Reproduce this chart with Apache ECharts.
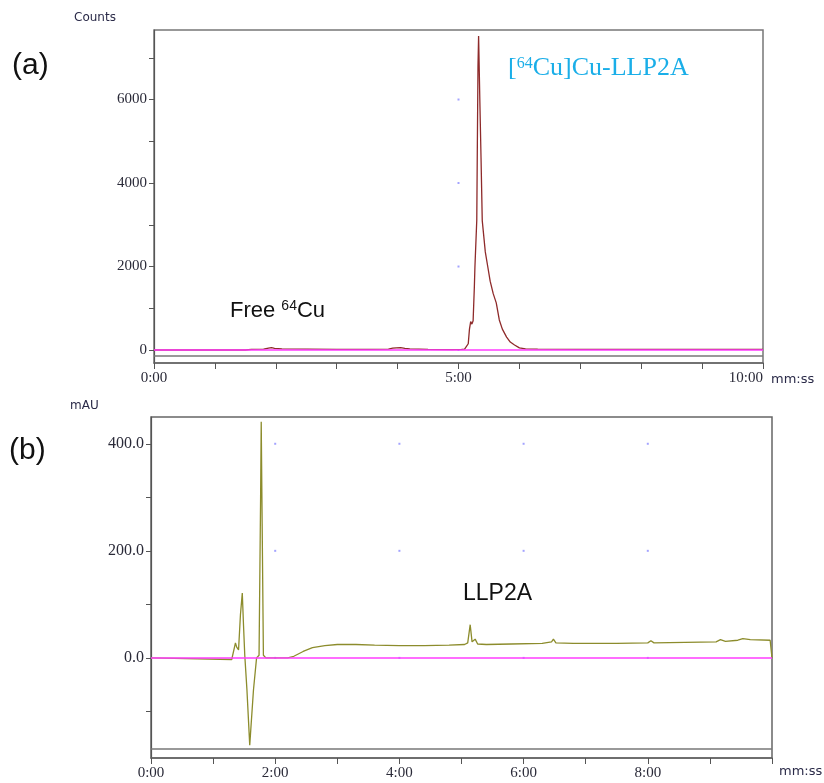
<!DOCTYPE html>
<html>
<head>
<meta charset="utf-8">
<script src="https://cdn.jsdelivr.net/npm/echarts@6/dist/echarts.min.js"></script>
<style>
  html, body { margin: 0; padding: 0; background: #fff; }
  #chart { width: 824px; height: 783px; }
</style>
</head>
<body>
<div id="chart"></div>
<script>
// (a) radio trace, time in minutes
const timeA = [0, 1.5, 1.6, 1.8, 1.88, 1.93, 1.98, 2.1, 2.5, 3.0, 3.5, 3.85, 3.92, 3.98, 4.05, 4.12, 4.2, 4.5, 4.9, 5.05,
  5.1, 5.13, 5.16, 5.18, 5.2, 5.22, 5.24, 5.26, 5.27, 5.3, 5.31, 5.32, 5.33, 5.35, 5.37, 5.39, 5.44, 5.48, 5.52, 5.57,
  5.62, 5.67, 5.72, 5.79, 5.85, 5.92, 6.0, 6.1, 6.3, 7, 8, 9, 10]
const countsA = [0, 0, 15, 20, 45, 55, 40, 25, 20, 15, 15, 20, 45, 50, 55, 40, 25, 15, 10, 15,
  20, 30, 150, 500, 680, 620, 700, 1500, 2000, 3110, 5000, 6800, 7520, 6000, 4600, 3100, 2350, 2000, 1650, 1350,
  1130, 720, 500, 310, 190, 120, 50, 25, 20, 15, 15, 15, 15]

// (b) UV trace
const timeB = [0, 1.3, 1.33, 1.36, 1.38, 1.41, 1.44, 1.47, 1.49, 1.51, 1.53, 1.545, 1.59, 1.65, 1.7, 1.74, 1.765, 1.775,
  1.79, 1.81, 1.85, 2.2, 2.3, 2.45, 2.6, 2.8, 3.0, 3.3, 3.6, 4.0, 4.4, 4.8, 5.05, 5.1, 5.14, 5.17, 5.2, 5.22, 5.26,
  5.4, 5.8, 6.3, 6.45, 6.48, 6.52, 6.8, 7.5, 8.0, 8.05, 8.1, 8.6, 9.1, 9.17, 9.25, 9.45, 9.53, 9.65, 9.97, 10]
const mauB = [0, -3, -6, 28, 20, 15, 80, 121, 60, 5, 3, -60, -163, -60, 0, 5, 300, 441,
  250, 5, 0, 0, 3, 12, 19, 23, 25, 25, 24, 23, 23, 24, 25, 28, 62, 30, 28, 35, 26,
  25, 26, 27, 30, 35, 28, 27, 27, 28, 32, 28, 29, 30, 34, 31, 33, 36, 34, 33, 0]

// tick positions
const yTicksA = [0, 1000, 2000, 3000, 4000, 5000, 6000, 7000]
const yLabelsA = [0, 2000, 4000, 6000]
const yTicksB = [-100, 0, 100, 200, 300, 400]
const yLabelsB = [0, 200, 400]

// grid marker dots
const dotsA = [[5, 0], [5, 2000], [5, 4000], [5, 6000]]
const dotsB = [[2, 0], [4, 0], [6, 0], [8, 0], [2, 200], [4, 200], [6, 200], [8, 200], [2, 400], [4, 400], [6, 400], [8, 400]]

const lowLineA = -136
const lowLineB = -170

function pairs (xs, ys) {
  return xs.map((x, i) => [x, ys[i]])
}
function mmss (v) {
  return Math.round(v) + ':00'
}

const labelFont = { fontFamily: 'Liberation Serif', fontSize: 15, color: '#2a2a38' }

let myChart = echarts.init(document.getElementById('chart'), null, { renderer: 'canvas' })

const baseLines = function (low) {
  return {
    silent: true,
    symbol: ['none', 'none'],
    label: { show: false },
    data: [
      { yAxis: 0, lineStyle: { color: '#ff3cff', width: 1.6, type: 'solid' } },
      { yAxis: low, lineStyle: { color: '#777', width: 1.6, type: 'solid' } }
    ]
  }
}

myChart.setOption({
  backgroundColor: '#fff',
  animation: false,
  grid: [
    { left: 154, right: 61, top: 30, height: 333, show: true, borderColor: '#777', borderWidth: 1.5 },
    { left: 151, right: 52, top: 417, height: 341, show: true, borderColor: '#666', borderWidth: 1.5 }
  ],
  xAxis: [
    {
      gridIndex: 0, type: 'value', min: 0, max: 10, interval: 1,
      axisLine: { onZero: false, lineStyle: { color: '#666', width: 1.5 } },
      axisTick: { length: 6, lineStyle: { color: '#555' } },
      splitLine: { show: false },
      axisLabel: Object.assign({ margin: 8, alignMaxLabel: 'right', formatter: v => (v % 5 === 0 ? mmss(v) : '') }, labelFont)
    },
    {
      gridIndex: 1, type: 'value', min: 0, max: 10, interval: 1,
      axisLine: { onZero: false, lineStyle: { color: '#666', width: 1.5 } },
      axisTick: { length: 6, lineStyle: { color: '#555' } },
      splitLine: { show: false },
      axisLabel: Object.assign({ margin: 8, formatter: v => (v % 2 === 0 && v < 10 ? mmss(v) : '') }, labelFont)
    }
  ],
  yAxis: [
    {
      gridIndex: 0, type: 'value', min: -311, max: 7665,
      axisLine: { show: true, onZero: false, lineStyle: { color: '#555', width: 1.2 } },
      axisTick: { show: true, length: 5, customValues: yTicksA, lineStyle: { color: '#555' } },
      splitLine: { show: false },
      axisLabel: Object.assign({ margin: 7, customValues: yLabelsA, formatter: v => String(v) }, labelFont)
    },
    {
      gridIndex: 1, type: 'value', min: -187, max: 450,
      axisLine: { show: true, onZero: false, lineStyle: { color: '#555', width: 1.2 } },
      axisTick: { show: true, length: 5, customValues: yTicksB, lineStyle: { color: '#555' } },
      splitLine: { show: false },
      axisLabel: Object.assign({ margin: 7, customValues: yLabelsB, formatter: v => v.toFixed(1) }, labelFont, { fontSize: 16 })
    }
  ],
  series: [
    {
      type: 'scatter', xAxisIndex: 0, yAxisIndex: 0, data: dotsA,
      symbol: 'rect', symbolSize: 2, itemStyle: { color: '#8c8cff' }, silent: true
    },
    {
      type: 'scatter', xAxisIndex: 1, yAxisIndex: 1, data: dotsB,
      symbol: 'rect', symbolSize: 2, itemStyle: { color: '#8c8cff' }, silent: true
    },
    {
      name: 'counts', type: 'line', xAxisIndex: 0, yAxisIndex: 0,
      data: pairs(timeA, countsA), showSymbol: false,
      lineStyle: { color: '#8e2a2a', width: 1.3 },
      markLine: baseLines(lowLineA), z: 3
    },
    {
      name: 'mAU', type: 'line', xAxisIndex: 1, yAxisIndex: 1,
      data: pairs(timeB, mauB), showSymbol: false,
      lineStyle: { color: '#8c8c2c', width: 1.3 },
      markLine: baseLines(lowLineB), z: 3
    }
  ],
  graphic: [
    { type: 'text', left: 12, top: 51, style: { text: '(a)', font: '30px "Liberation Sans"', fill: '#111' } },
    { type: 'text', left: 9, top: 436, style: { text: '(b)', font: '30px "Liberation Sans"', fill: '#111' } },
    { type: 'text', left: 74, top: 12, style: { text: 'Counts', font: '12px "DejaVu Sans"', fill: '#2a2a48' } },
    { type: 'text', left: 70, top: 400, style: { text: 'mAU', font: '12px "DejaVu Sans"', fill: '#2a2a48' } },
    { type: 'text', left: 771, top: 373, style: { text: 'mm:ss', font: '13px "DejaVu Sans"', fill: '#2a2a48' } },
    { type: 'text', left: 779, top: 765, style: { text: 'mm:ss', font: '13px "DejaVu Sans"', fill: '#2a2a48' } },
    {
      type: 'text', left: 508, top: 55,
      style: {
        text: '{n|[}{s|64}{n|Cu]Cu-LLP2A}',
        fill: '#1aaee8',
        rich: {
          n: { fontFamily: 'Liberation Serif', fontSize: 26, fill: '#1aaee8' },
          s: { fontFamily: 'Liberation Serif', fontSize: 16, fill: '#1aaee8', padding: [0, 0, 9, 0] }
        }
      }
    },
    {
      type: 'text', left: 230, top: 299,
      style: {
        text: '{n|Free }{s|64}{n|Cu}',
        fill: '#111',
        rich: {
          n: { fontFamily: 'Liberation Sans', fontSize: 22, fill: '#111' },
          s: { fontFamily: 'Liberation Sans', fontSize: 14, fill: '#111', padding: [0, 0, 9, 0] }
        }
      }
    },
    { type: 'text', left: 463, top: 582, style: { text: 'LLP2A', font: '23px "Liberation Sans"', fill: '#111' } }
  ]
})
</script>
</body>
</html>
